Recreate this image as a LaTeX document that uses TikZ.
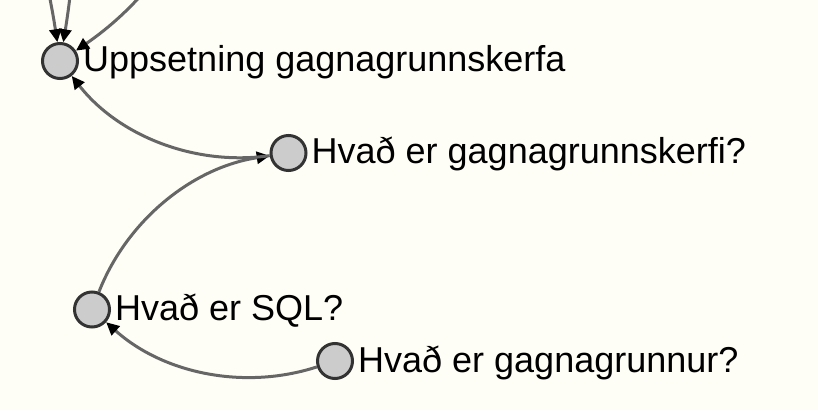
\documentclass[tikz,border=0pt]{standalone}
\usepackage{fontspec}
\setmainfont{Liberation Sans}
\usetikzlibrary{arrows.meta}
\definecolor{bgc}{RGB}{255,254,246}
\definecolor{nodefill}{RGB}{204,204,204}
\definecolor{nodeline}{RGB}{51,51,51}
\definecolor{edgec}{RGB}{102,102,102}
\begin{document}
\begin{tikzpicture}[x=1pt,y=1pt,
  topic/.style={circle, draw=nodeline, fill=nodefill, line width=3pt, minimum size=35pt, inner sep=0pt},
  lbl/.style={anchor=base west, inner sep=0pt, font=\fontsize{36}{40}\selectfont, text=black},
  link/.style={draw=edgec, line width=3pt, -{Triangle[length=13pt,width=12pt,color=black]}, bend left=30, looseness=0.91}]
\fill[bgc] (0,0) rectangle (818,410);
\useasboundingbox (0,0) rectangle (818,410);
\clip (0,0) rectangle (818,410);
% off-frame sources
\coordinate (a1) at (-433,979);
\coordinate (a2) at (-214,1101);
\coordinate (a3) at (232.5,687.6);
% nodes
\node[topic] (u) at (60,349) {};
\node[topic] (k) at (288.5,257) {};
\node[topic] (s) at (92,100.5) {};
\node[topic] (g) at (335,49) {};
% labels
\node[lbl] (ul) at ([shift={(23pt,-11pt)}]u.center) {Uppsetning gagnagrunnskerfa};
\node[lbl] (kl) at ([shift={(23pt,-11pt)}]k.center) {Hvað er gagnagrunnskerfi?};
\node[lbl] (sl) at ([shift={(23pt,-11pt)}]s.center) {Hvað er SQL?};
\node[lbl] (gl) at ([shift={(23pt,-11pt)}]g.center) {Hvað er gagnagrunnur?};
% edges
\draw[link] (g) to (s);
\draw[link] (s) to (k);
\draw[link] (k) to (u);
\draw[link] (a1) to (u);
\draw[link] (a2) to (u);
\draw[link] (a3) to (u);
\end{tikzpicture}
\end{document}
